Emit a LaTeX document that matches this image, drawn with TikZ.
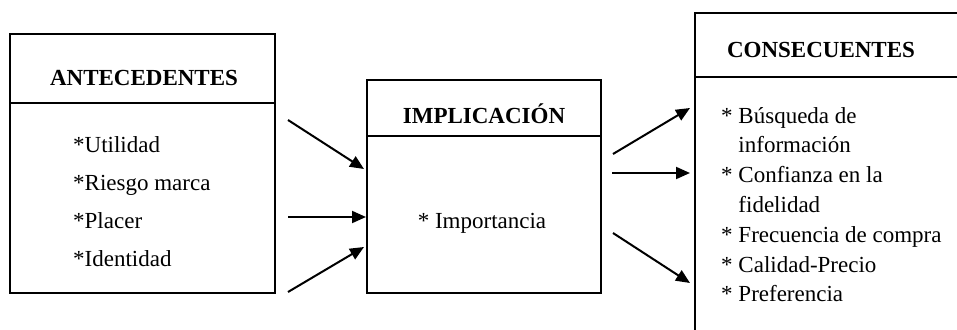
\documentclass[tikz,border=0pt]{standalone}
\usepackage{fontspec}
\setmainfont{Liberation Serif}
\usetikzlibrary{arrows.meta,positioning}

\newcommand{\diagfont}{\fontsize{23}{28}\selectfont}

\begin{document}
\begin{tikzpicture}[
  x=1pt, y=-1pt,
  box/.style={rectangle, draw, line width=2pt, inner sep=0pt, outer sep=0pt, anchor=north west},
  title/.style={font=\diagfont\bfseries, anchor=base, inner sep=0pt},
  item/.style={font=\diagfont, anchor=base west, inner sep=0pt},
  link/.style={-{Triangle[length=14pt,width=12pt]}, line width=2pt},
]
\useasboundingbox (0,0) rectangle (957,329);
\clip (0,0) rectangle (957,329);

% Antecedentes
\node (antehead) [box, minimum width=265, minimum height=69] at (10,34) {};
\node (antebody) [box, below=0pt of antehead, minimum width=265, minimum height=190] {};
\node (antetitle) [title] at (144,85) {ANTECEDENTES};
\foreach \txt [count=\i] in {*Utilidad, *Riesgo marca, *Placer, *Identidad}
  \node (ante\i) [item] at (73,114+38*\i) {\txt};

% Implicacion
\node (implhead) [box, minimum width=234, minimum height=56] at (367,80) {};
\node (implbody) [box, below=0pt of implhead, minimum width=234, minimum height=157] {};
\node (impltitle) [title] at (484,123) {IMPLICACIÓN};
\node (impl1) [item, anchor=base] at (482,228) {* Importancia};

% Consecuentes
\node (conshead) [box, minimum width=300, minimum height=64] at (695,13) {};
\node (consbody) [box, below=0pt of conshead, minimum width=300, minimum height=290] {};
\node (constitle) [title] at (821,57) {CONSECUENTES};
\foreach \txt [count=\i from 0] in {* Búsqueda de, \phantom{* }información,
    * Confianza en la, \phantom{* }fidelidad, * Frecuencia de compra,
    * Calidad-Precio, * Preferencia}
  \node (cons\i) [item] at (721,123+29.8*\i) {\txt};

% Arrow ends
\coordinate (inA) at (288,120);  \coordinate (inA') at (364,169);
\coordinate (inB) at (288,217);  \coordinate (inB') at (366,217);
\coordinate (inC) at (288,292);  \coordinate (inC') at (364,247);
\coordinate (outA) at (613,154); \coordinate (outA') at (690,108);
\coordinate (outB) at (612,173); \coordinate (outB') at (690,173);
\coordinate (outC) at (613,233); \coordinate (outC') at (690,283);

% Connections
\draw[link] (inA) -- (inA');
\draw[link] (inB) -- (inB');
\draw[link] (inC) -- (inC');
\draw[link] (outA) -- (outA');
\draw[link] (outB) -- (outB');
\draw[link] (outC) -- (outC');

\end{tikzpicture}
\end{document}
